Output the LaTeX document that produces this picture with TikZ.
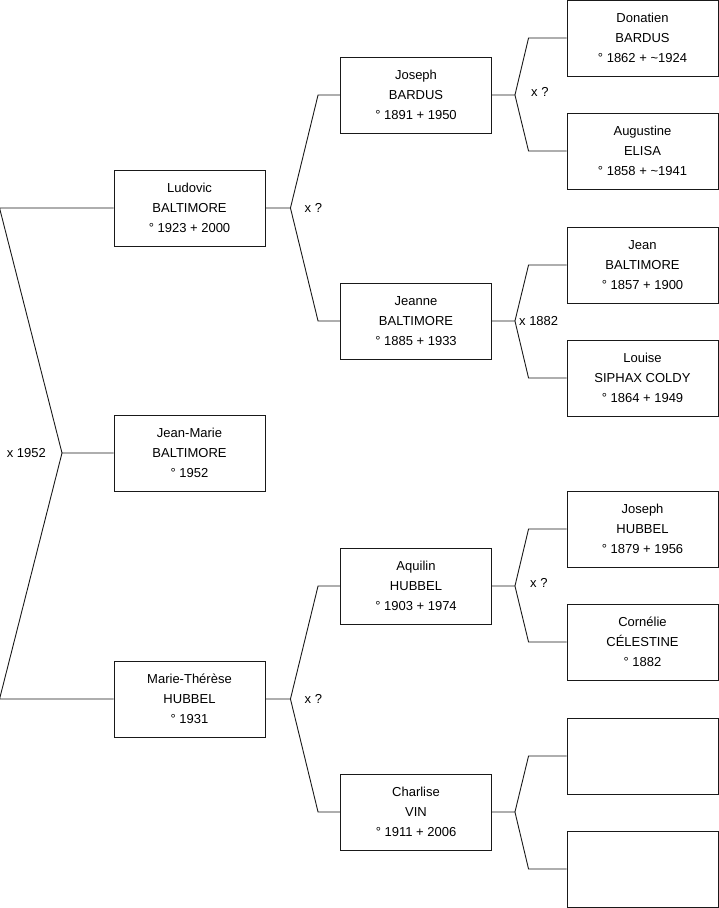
\documentclass[tikz,border=0pt]{standalone}
\usepackage{fontspec}
\setmainfont{Liberation Sans}
\usetikzlibrary{positioning}

\begin{document}
\begin{tikzpicture}[
    x=1pt, y=-1pt,
    font=\fontsize{13}{20}\selectfont,
    person/.style={rectangle, draw=black!90, line width=0.9pt, minimum width=151pt, minimum height=76pt, align=center, inner sep=0pt},
    link/.style={draw=black!90, line width=0.9pt},
    lbl/.style={inner sep=0pt}
]
\useasboundingbox (0,0) rectangle (719,908);

% Generation 1
\node[person] (ludovic) at (189.5,208) {Ludovic\\BALTIMORE\\° 1923 + 2000};
\node[person] (jeanmarie) at (189.5,453) {Jean-Marie\\BALTIMORE\\° 1952};
\node[person] (marie) at (189.5,699) {Marie-Thérèse\\HUBBEL\\° 1931};

% Generation 2
\node[person] (josephb) at (416,95) {Joseph\\BARDUS\\° 1891 + 1950};
\node[person] (jeanne) at (416,321) {Jeanne\\BALTIMORE\\° 1885 + 1933};
\node[person] (aquilin) at (416,586) {Aquilin\\HUBBEL\\° 1903 + 1974};
\node[person] (charlise) at (416,812) {Charlise\\VIN\\° 1911 + 2006};

% Generation 3
\node[person] (donatien) at (642.5,38) {Donatien\\BARDUS\\° 1862 + \textasciitilde1924};
\node[person] (augustine) at (642.5,151) {Augustine\\ELISA\\° 1858 + \textasciitilde1941};
\node[person] (jean) at (642.5,265) {Jean\\BALTIMORE\\° 1857 + 1900};
\node[person] (louise) at (642.5,378) {Louise\\SIPHAX COLDY\\° 1864 + 1949};
\node[person] (josephh) at (642.5,529) {Joseph\\HUBBEL\\° 1879 + 1956};
\node[person] (cornelie) at (642.5,642) {Cornélie\\CÉLESTINE\\° 1882};
\node[person] (unknowna) at (642.5,756) {};
\node[person] (unknownb) at (642.5,869) {};

% Forks
\coordinate (fa) at (62,453);
\coordinate[right=25pt of ludovic] (fb);
\coordinate[right=25pt of marie] (fc);
\coordinate[right=23pt of josephb] (fd);
\coordinate[right=23pt of jeanne] (fe);
\coordinate[right=23pt of aquilin] (ff);
\coordinate[right=23pt of charlise] (fg);

\draw[link] (ludovic.west) -- ([xshift=-114pt]ludovic.west) -- (fa) -- (jeanmarie.west);
\draw[link] (marie.west) -- ([xshift=-114pt]marie.west) -- (fa);

\draw[link] (ludovic.east) -- (fb) -- ([xshift=-22pt]josephb.west) -- (josephb.west);
\draw[link] (fb) -- ([xshift=-22pt]jeanne.west) -- (jeanne.west);
\draw[link] (marie.east) -- (fc) -- ([xshift=-22pt]aquilin.west) -- (aquilin.west);
\draw[link] (fc) -- ([xshift=-22pt]charlise.west) -- (charlise.west);

\draw[link] (josephb.east) -- (fd) -- ([xshift=-38pt]donatien.west) -- (donatien.west);
\draw[link] (fd) -- ([xshift=-38pt]augustine.west) -- (augustine.west);
\draw[link] (jeanne.east) -- (fe) -- ([xshift=-38pt]jean.west) -- (jean.west);
\draw[link] (fe) -- ([xshift=-38pt]louise.west) -- (louise.west);
\draw[link] (aquilin.east) -- (ff) -- ([xshift=-38pt]josephh.west) -- (josephh.west);
\draw[link] (ff) -- ([xshift=-38pt]cornelie.west) -- (cornelie.west);
\draw[link] (charlise.east) -- (fg) -- ([xshift=-38pt]unknowna.west) -- (unknowna.west);
\draw[link] (fg) -- ([xshift=-38pt]unknownb.west) -- (unknownb.west);

% Marriages
\node[lbl, left=16pt of fa] (ma) {x 1952};
\node[lbl, right=14pt of fb] (mb) {x ?};
\node[lbl, right=14pt of fc] (mc) {x ?};
\node[lbl, right=16pt of fd, yshift=3pt] (md) {x ?};
\node[lbl, right=4pt of fe] (me) {x 1882};
\node[lbl, right=15pt of ff, yshift=3pt] (mf) {x ?};
\end{tikzpicture}
\end{document}
